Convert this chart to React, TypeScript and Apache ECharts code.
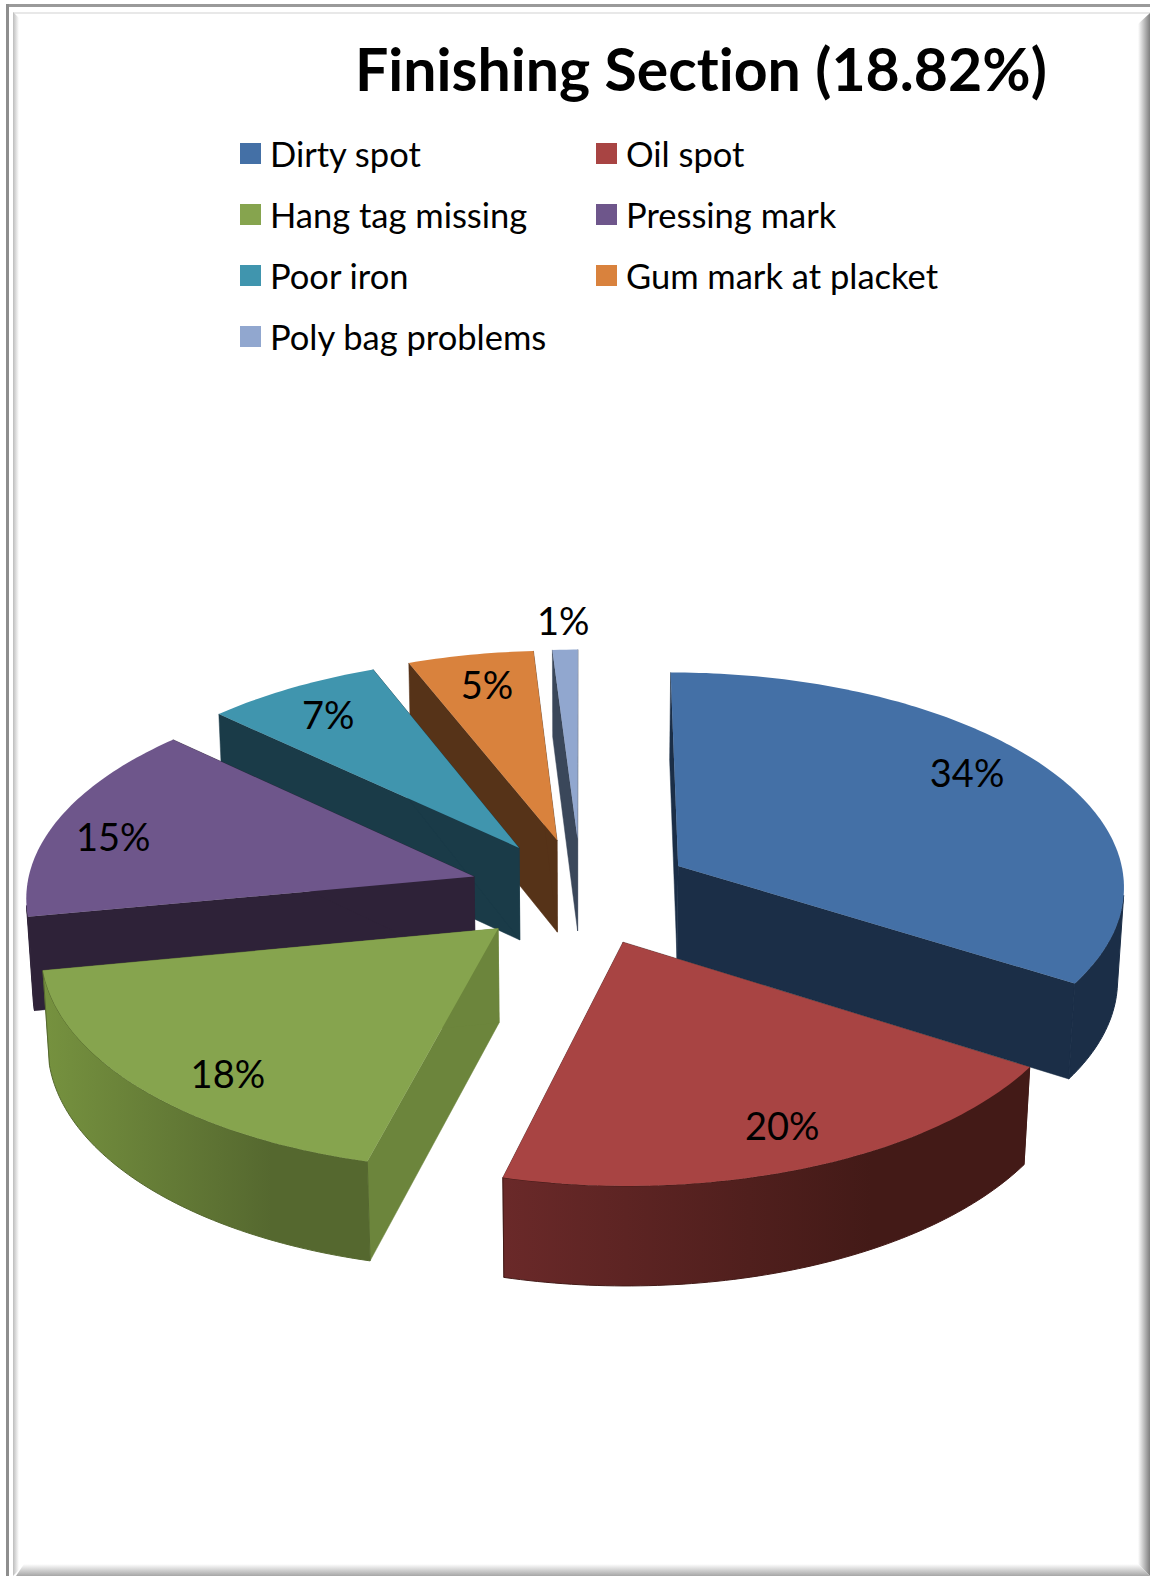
import React, { useEffect, useRef } from "react";
import * as echarts from "echarts";

const WIDTH = 1150;
const HEIGHT = 1576;

const titleText = "Finishing Section (18.82%)";
const categories = [
  "Dirty spot",
  "Oil spot",
  "Hang tag missing",
  "Pressing mark",
  "Poor iron",
  "Gum mark at placket",
  "Poly bag problems",
];
const shares = [34, 20, 18, 15, 7, 5, 1];

// Slice colours: top face, cut faces, and the outer wall as a left-to-right ramp.
const topColors = ["#4470A6", "#A84443", "#86A44E", "#6E568B", "#4095AE", "#D9823D", "#91A7CF"];
const sideColors = ["#1B2E47", "#431A18", "#6C853C", "#2E2238", "#1A3B48", "#563318", "#3A475A"];
const wallRamps = [
  ["#1B2E47", "#1B2E47"],
  ["#6A2929", "#431A17"],
  ["#76923F", "#55682F"],
  ["#2E2238", "#2E2238"],
  ["#1A3B48", "#1A3B48"],
  ["#563318", "#563318"],
  ["#3A475A", "#3A475A"],
];

// Back-to-front painting order of the slices.
const paintOrder = [6, 5, 4, 0, 3, 2, 1];
const legendColumns = [
  { left: 240, names: [categories[0], categories[2], categories[4], categories[6]] },
  { left: 596, names: [categories[1], categories[3], categories[5]] },
];
// Best-fit placement of each percentage label: nudge from the mid-angle (degrees) and radius.
const labelAngleNudges = [-5.5, -1, -5, -3, 0, 0.5, 0];
const labelRadii = [0.83, 0.83, 0.83, 0.85, 0.83, 0.83, 1.17];

// Camera that maps the pie plane (radius 1, X right, Y away) onto the page.
const camera = { cx: 581, a: 448, A: 891.4, B: -138.4, p: 0.0848, q: 0.012, D: 105 };
const explode = 0.25;

function project(X: number, Y: number, depth: number): number[] {
  const { cx, a, A, B, p, q, D } = camera;
  const w = 1 + p * Y + q * depth;
  return [cx + (a * X) / w, (A + B * Y + D * depth) / w];
}

const rad = (deg: number) => (deg * Math.PI) / 180;

function sliceAngles(index: number) {
  const total = shares.reduce((s, v) => s + v, 0);
  const before = shares.slice(0, index).reduce((s, v) => s + v, 0);
  const start = (before / total) * 360;
  const end = ((before + shares[index]) / total) * 360;
  return { start, end, mid: (start + end) / 2 };
}

// Signed screen area of a polygon; negative for wall strips that face the viewer.
function signedArea(pts: number[][]): number {
  let sum = 0;
  pts.forEach((p, i) => {
    const q = pts[(i + 1) % pts.length];
    sum += p[0] * q[1] - q[0] * p[1];
  });
  return sum;
}

function buildSlice(index: number) {
  const { start, end, mid } = sliceAngles(index);
  const ox = explode * Math.sin(rad(mid));
  const oy = explode * Math.cos(rad(mid));
  const rimAt = (deg: number, depth: number) =>
    project(ox + Math.sin(rad(deg)), oy + Math.cos(rad(deg)), depth);
  const apexAt = (depth: number) => project(ox, oy, depth);

  const arcDegrees: number[] = [];
  for (let d = start; d < end; d += 1) arcDegrees.push(d);
  arcDegrees.push(end);

  const topRim = arcDegrees.map((d) => rimAt(d, 0));

  const radialFace = (deg: number) => ({
    type: "polygon",
    shape: { points: [apexAt(0), rimAt(deg, 0), rimAt(deg, 1), apexAt(1)] },
    style: { fill: sideColors[index], stroke: sideColors[index], lineWidth: 0.5 },
  });

  // Only the part of the arc that faces the viewer gets a wall, so the polygon never folds over itself.
  const wallDegrees = arcDegrees.filter((d, i) => {
    const prev = arcDegrees[i - 1];
    const next = arcDegrees[i + 1];
    const faces = (a: number, b: number) =>
      signedArea([rimAt(a, 0), rimAt(b, 0), rimAt(b, 1), rimAt(a, 1)]) < 0;
    return (next !== undefined && faces(d, next)) || (prev !== undefined && faces(prev, d));
  });

  const ramp = wallRamps[index];
  const wallFill = new echarts.graphic.LinearGradient(0, 0, 1, 0, [
    { offset: 0, color: ramp[0] },
    { offset: 0.7, color: ramp[1] },
    { offset: 1, color: ramp[1] },
  ]);

  const children: any[] = [radialFace(start), radialFace(end)];
  if (wallDegrees.length > 1) {
    children.push({
      type: "polygon",
      shape: {
        points: [
          ...wallDegrees.map((d) => rimAt(d, 0)),
          ...wallDegrees.slice().reverse().map((d) => rimAt(d, 1)),
        ],
      },
      style: { fill: wallFill, stroke: ramp[1], lineWidth: 1 },
    });
  }

  const labelDeg = mid + labelAngleNudges[index];
  const labelPos = project(
    ox + labelRadii[index] * Math.sin(rad(labelDeg)),
    oy + labelRadii[index] * Math.cos(rad(labelDeg)),
    0,
  );

  children.push(
    {
      type: "polygon",
      shape: { points: [apexAt(0), ...topRim] },
      style: { fill: topColors[index] },
    },
    {
      type: "text",
      x: labelPos[0],
      y: labelPos[1],
      style: {
        text: `${shares[index]}%`,
        fontFamily: "Lato",
        fontSize: 38,
        fill: "#000000",
        align: "center",
        verticalAlign: "middle",
      },
    },
  );

  return { type: "group", children };
}

// Bevelled page frame drawn behind the chart.
function frameGraphics() {
  const ramp = (x0: number, y0: number, x1: number, y1: number, from: string, to: string) =>
    new echarts.graphic.LinearGradient(x0, y0, x1, y1, [
      { offset: 0, color: from },
      { offset: 1, color: to },
    ]);
  return [
    { type: "rect", shape: { x: 6, y: 4, width: WIDTH - 6, height: 3 }, style: { fill: "#9A9A9A" } },
    { type: "rect", shape: { x: 6, y: 4, width: 3, height: HEIGHT - 4 }, style: { fill: "#8E8E8E" } },
    { type: "rect", shape: { x: 13, y: 12, width: WIDTH - 13, height: 2 }, style: { fill: "#E8E8E8" } },
    {
      type: "polygon",
      shape: { points: [[13, 12], [19, 18], [19, 1570], [13, HEIGHT]] },
      style: { fill: ramp(0, 0, 1, 0, "#BDBDBD", "#FFFFFF") },
    },
    {
      type: "polygon",
      shape: { points: [[1150, 13], [1138, 24], [1138, 1564], [1150, HEIGHT]] },
      style: { fill: ramp(0, 0, 1, 0, "#FFFFFF", "#7E7E7E") },
    },
    {
      type: "polygon",
      shape: { points: [[24, 1564], [1138, 1564], [1150, HEIGHT], [16, HEIGHT]] },
      style: { fill: ramp(0, 0, 0, 1, "#FFFFFF", "#A6A6A6") },
    },
  ];
}

export default function App() {
  const ref = useRef<HTMLDivElement>(null);

  useEffect(() => {
    document.body.style.margin = "0";
    const chart = echarts.init(ref.current as HTMLDivElement, undefined, { renderer: "svg" });
    chart.setOption({
      animation: false,
      backgroundColor: "#FFFFFF",
      title: {
        text: titleText,
        left: 355,
        top: 39,
        padding: 0,
        textStyle: { fontFamily: "Lato", fontWeight: "bold", fontSize: 59, color: "#000000" },
      },
      legend: legendColumns.map((col) => ({
        orient: "vertical",
        left: col.left,
        top: 136,
        padding: 0,
        itemWidth: 21,
        itemHeight: 21,
        itemGap: 26,
        icon: "rect",
        selectedMode: false,
        data: col.names,
        textStyle: {
          fontFamily: "Lato",
          fontSize: 34.5,
          color: "#000000",
          lineHeight: 21,
          padding: [0, 0, 0, 4],
        },
      })),
      graphic: { elements: frameGraphics().map((el) => ({ ...el, silent: true, z: -10 })) },
      series: paintOrder.map((index) => ({
        type: "custom",
        name: categories[index],
        coordinateSystem: "none",
        silent: true,
        itemStyle: { color: topColors[index] },
        data: [[shares[index]]],
        renderItem: () => buildSlice(index),
      })),
    });
    return () => chart.dispose();
  }, []);

  return (
    <div
      ref={ref}
      style={{
        position: "absolute",
        left: 0,
        top: 0,
        width: WIDTH,
        height: HEIGHT,
        fontVariantLigatures: "none",
      }}
    />
  );
}
